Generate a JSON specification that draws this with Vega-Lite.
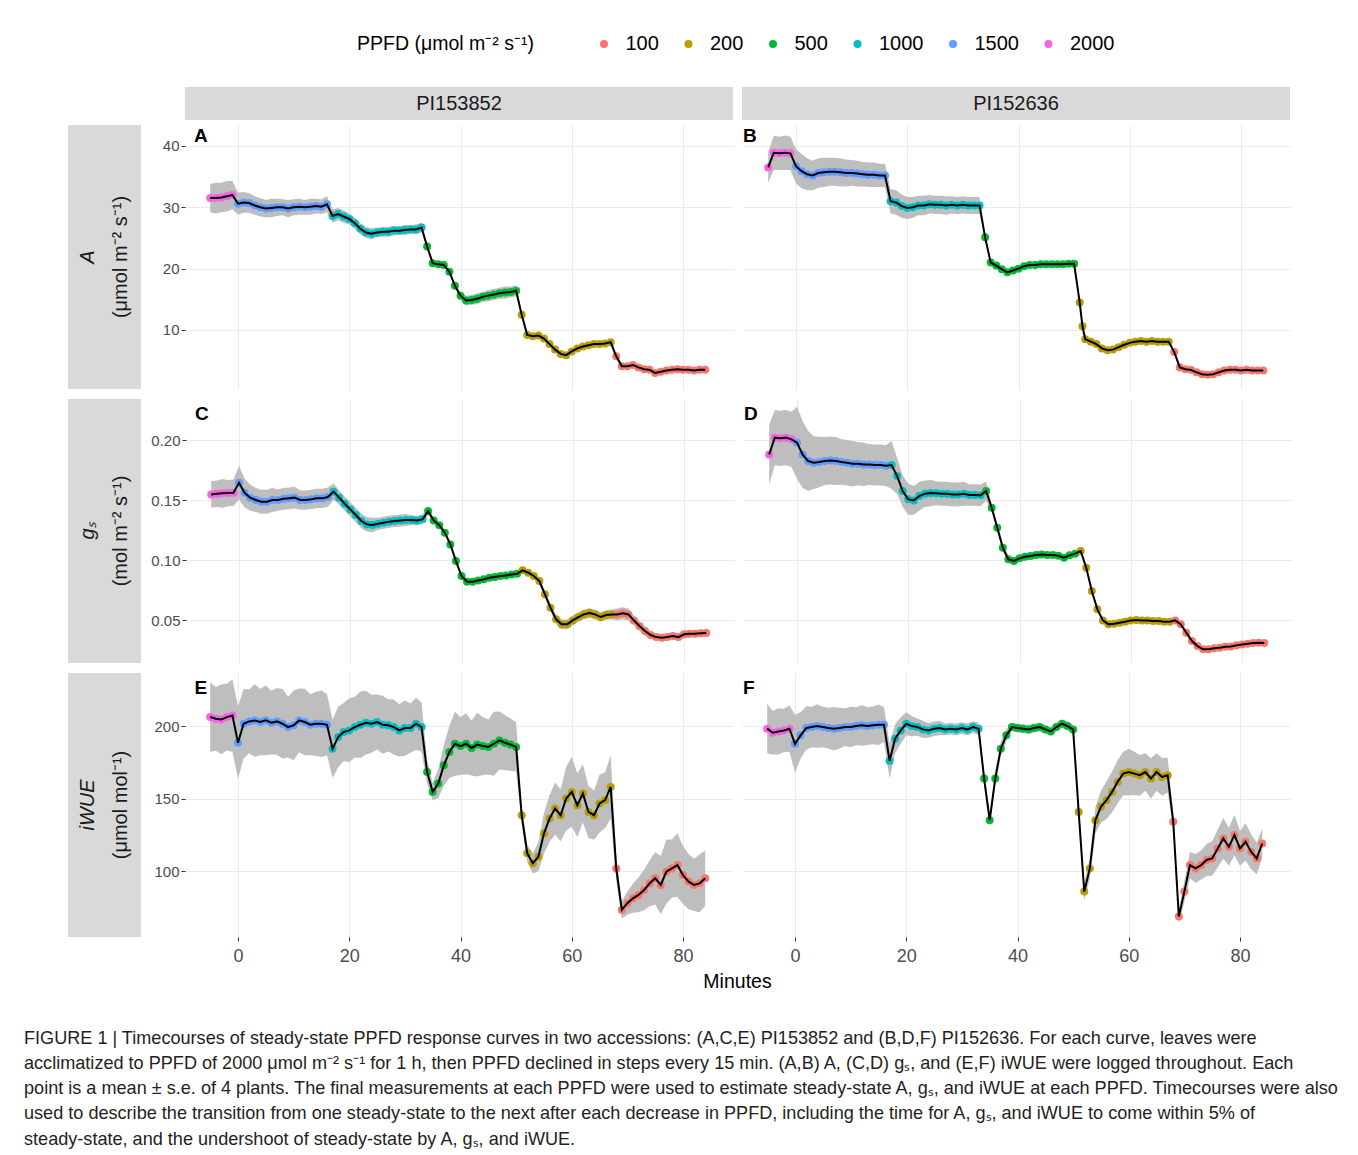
{
"$schema":"https://vega.github.io/schema/vega-lite/v6.json",
"background":"white",
"padding":{"left":24,"top":34,"right":10,"bottom":5},
"config":{"font":"Liberation Sans","view":{"stroke":null},
"axis":{"gridColor":"#ebebeb","gridWidth":1.1,"domain":false,"tickColor":"#333333","tickSize":4,"labelColor":"#4d4d4d","labelFont":"Liberation Sans","labelFontSize":15,"titleFont":"Liberation Sans","titleFontSize":19.5,"titleFontWeight":"normal","titleColor":"#000000","labelPadding":2},
"axisX":{"labelFontSize":18,"labelPadding":6}},
"title":{"text":["FIGURE 1 | Timecourses of steady-state PPFD response curves in two accessions: (A,C,E) PI153852 and (B,D,F) PI152636. For each curve, leaves were","acclimatized to PPFD of 2000 μmol m⁻² s⁻¹ for 1 h, then PPFD declined in steps every 15 min. (A,B) A, (C,D) gₛ, and (E,F) iWUE were logged throughout. Each","point is a mean ± s.e. of 4 plants. The final measurements at each PPFD were used to estimate steady-state A, gₛ, and iWUE at each PPFD. Timecourses were also","used to describe the transition from one steady-state to the next after each decrease in PPFD, including the time for A, gₛ, and iWUE to come within 5% of","steady-state, and the undershoot of steady-state by A, gₛ, and iWUE."],"orient":"bottom","anchor":"start","dx":-44,"offset":39,"fontSize":18.1,"fontWeight":"normal","font":"Liberation Sans","color":"#231f20","lineHeight":25.3,"baseline":"top"},
"datasets":{
"A1":[{"t":-5,"m":31.5,"e":2.3,"p":2000},{"t":-4,"m":31.5,"e":2.5,"p":2000},{"t":-3,"m":31.6,"e":2.4,"p":2000},{"t":-2,"m":31.8,"e":2.5,"p":2000},{"t":-1,"m":32.0,"e":2.3,"p":2000},{"t":0,"m":30.6,"e":1.8,"p":1500},{"t":1,"m":30.8,"e":1.7,"p":1500},{"t":2,"m":30.7,"e":1.6,"p":1500},{"t":3,"m":30.3,"e":1.5,"p":1500},{"t":4,"m":30.0,"e":1.5,"p":1500},{"t":5,"m":29.8,"e":1.4,"p":1500},{"t":6,"m":29.9,"e":1.5,"p":1500},{"t":7,"m":30.0,"e":1.4,"p":1500},{"t":8,"m":30.0,"e":1.3,"p":1500},{"t":9,"m":29.8,"e":1.4,"p":1500},{"t":10,"m":30.0,"e":1.3,"p":1500},{"t":11,"m":30.1,"e":1.3,"p":1500},{"t":12,"m":30.0,"e":1.2,"p":1500},{"t":13,"m":30.1,"e":1.3,"p":1500},{"t":14,"m":30.2,"e":1.2,"p":1500},{"t":15,"m":30.1,"e":1.2,"p":1500},{"t":16,"m":30.5,"e":1.3,"p":1500},{"t":17,"m":28.6,"e":1.1,"p":1000},{"t":18,"m":28.9,"e":1.0,"p":1000},{"t":19,"m":28.5,"e":1.0,"p":1000},{"t":20,"m":28.1,"e":0.9,"p":1000},{"t":21,"m":27.4,"e":0.9,"p":1000},{"t":22,"m":26.5,"e":0.9,"p":1000},{"t":23,"m":25.9,"e":0.9,"p":1000},{"t":24,"m":25.7,"e":0.9,"p":1000},{"t":25,"m":25.9,"e":0.8,"p":1000},{"t":26,"m":26.0,"e":0.8,"p":1000},{"t":27,"m":26.0,"e":0.8,"p":1000},{"t":28,"m":26.2,"e":0.8,"p":1000},{"t":29,"m":26.2,"e":0.7,"p":1000},{"t":30,"m":26.3,"e":0.8,"p":1000},{"t":31,"m":26.4,"e":0.7,"p":1000},{"t":32,"m":26.4,"e":0.8,"p":1000},{"t":33,"m":26.7,"e":0.8,"p":1000},{"t":34,"m":23.6,"e":0.3,"p":500},{"t":35,"m":20.9,"e":0.3,"p":500},{"t":36,"m":20.7,"e":0.3,"p":500},{"t":37,"m":20.6,"e":0.3,"p":500},{"t":38,"m":19.5,"e":0.3,"p":500},{"t":39,"m":17.2,"e":0.4,"p":500},{"t":40,"m":15.6,"e":0.6,"p":500},{"t":41,"m":14.8,"e":0.8,"p":500},{"t":42,"m":14.9,"e":0.8,"p":500},{"t":43,"m":15.1,"e":0.9,"p":500},{"t":44,"m":15.4,"e":0.8,"p":500},{"t":45,"m":15.6,"e":0.9,"p":500},{"t":46,"m":15.8,"e":0.9,"p":500},{"t":47,"m":16.0,"e":0.9,"p":500},{"t":48,"m":16.1,"e":1.0,"p":500},{"t":49,"m":16.2,"e":0.9,"p":500},{"t":50,"m":16.4,"e":0.9,"p":500},{"t":51,"m":12.5,"e":0.3,"p":200},{"t":52,"m":9.2,"e":0.3,"p":200},{"t":53,"m":9.0,"e":0.3,"p":200},{"t":54,"m":9.1,"e":0.3,"p":200},{"t":55,"m":8.6,"e":0.3,"p":200},{"t":56,"m":7.7,"e":0.3,"p":200},{"t":57,"m":6.8,"e":0.3,"p":200},{"t":58,"m":6.1,"e":0.3,"p":200},{"t":59,"m":5.9,"e":0.3,"p":200},{"t":60,"m":6.5,"e":0.3,"p":200},{"t":61,"m":7.0,"e":0.3,"p":200},{"t":62,"m":7.3,"e":0.3,"p":200},{"t":63,"m":7.5,"e":0.3,"p":200},{"t":64,"m":7.7,"e":0.3,"p":200},{"t":65,"m":7.7,"e":0.3,"p":200},{"t":66,"m":7.8,"e":0.3,"p":200},{"t":67,"m":8.0,"e":0.3,"p":200},{"t":68,"m":5.7,"e":0.3,"p":100},{"t":69,"m":4.1,"e":0.3,"p":100},{"t":70,"m":4.1,"e":0.3,"p":100},{"t":71,"m":4.3,"e":0.3,"p":100},{"t":72,"m":3.9,"e":0.3,"p":100},{"t":73,"m":3.6,"e":0.3,"p":100},{"t":74,"m":3.5,"e":0.3,"p":100},{"t":75,"m":3.0,"e":0.3,"p":100},{"t":76,"m":3.2,"e":0.3,"p":100},{"t":77,"m":3.4,"e":0.3,"p":100},{"t":78,"m":3.5,"e":0.3,"p":100},{"t":79,"m":3.6,"e":0.3,"p":100},{"t":80,"m":3.5,"e":0.3,"p":100},{"t":81,"m":3.5,"e":0.3,"p":100},{"t":82,"m":3.4,"e":0.3,"p":100},{"t":83,"m":3.5,"e":0.3,"p":100},{"t":84,"m":3.5,"e":0.3,"p":100}],
"B1":[{"t":-5,"m":36.5,"e":2.5,"p":2000},{"t":-4,"m":38.9,"e":2.8,"p":2000},{"t":-3,"m":38.8,"e":2.7,"p":2000},{"t":-2,"m":38.9,"e":2.8,"p":2000},{"t":-1,"m":38.8,"e":2.7,"p":2000},{"t":0,"m":36.7,"e":2.8,"p":1500},{"t":1,"m":35.9,"e":2.8,"p":1500},{"t":2,"m":35.4,"e":2.6,"p":1500},{"t":3,"m":35.2,"e":2.4,"p":1500},{"t":4,"m":35.6,"e":2.4,"p":1500},{"t":5,"m":35.7,"e":2.4,"p":1500},{"t":6,"m":35.8,"e":2.3,"p":1500},{"t":7,"m":35.8,"e":2.3,"p":1500},{"t":8,"m":35.7,"e":2.3,"p":1500},{"t":9,"m":35.6,"e":2.2,"p":1500},{"t":10,"m":35.6,"e":2.1,"p":1500},{"t":11,"m":35.5,"e":2.1,"p":1500},{"t":12,"m":35.4,"e":2.0,"p":1500},{"t":13,"m":35.3,"e":2.0,"p":1500},{"t":14,"m":35.3,"e":2.0,"p":1500},{"t":15,"m":35.2,"e":1.9,"p":1500},{"t":16,"m":35.2,"e":1.9,"p":1500},{"t":17,"m":31.0,"e":2.0,"p":1000},{"t":18,"m":30.8,"e":2.0,"p":1000},{"t":19,"m":30.2,"e":1.9,"p":1000},{"t":20,"m":29.9,"e":1.8,"p":1000},{"t":21,"m":30.0,"e":1.7,"p":1000},{"t":22,"m":30.3,"e":1.6,"p":1000},{"t":23,"m":30.3,"e":1.6,"p":1000},{"t":24,"m":30.5,"e":1.5,"p":1000},{"t":25,"m":30.4,"e":1.5,"p":1000},{"t":26,"m":30.4,"e":1.5,"p":1000},{"t":27,"m":30.3,"e":1.5,"p":1000},{"t":28,"m":30.4,"e":1.4,"p":1000},{"t":29,"m":30.3,"e":1.4,"p":1000},{"t":30,"m":30.4,"e":1.4,"p":1000},{"t":31,"m":30.3,"e":1.4,"p":1000},{"t":32,"m":30.3,"e":1.4,"p":1000},{"t":33,"m":30.3,"e":1.4,"p":1000},{"t":34,"m":25.1,"e":0.3,"p":500},{"t":35,"m":21.0,"e":0.3,"p":500},{"t":36,"m":20.5,"e":0.3,"p":500},{"t":37,"m":19.9,"e":0.3,"p":500},{"t":38,"m":19.4,"e":0.3,"p":500},{"t":39,"m":19.7,"e":0.3,"p":500},{"t":40,"m":20.0,"e":0.3,"p":500},{"t":41,"m":20.4,"e":0.3,"p":500},{"t":42,"m":20.6,"e":0.3,"p":500},{"t":43,"m":20.6,"e":0.3,"p":500},{"t":44,"m":20.7,"e":0.3,"p":500},{"t":45,"m":20.7,"e":0.3,"p":500},{"t":46,"m":20.7,"e":0.3,"p":500},{"t":47,"m":20.7,"e":0.3,"p":500},{"t":48,"m":20.7,"e":0.3,"p":500},{"t":49,"m":20.8,"e":0.3,"p":500},{"t":50,"m":20.8,"e":0.3,"p":500},{"t":51,"m":14.5,"e":0.3,"p":200},{"t":51.5,"m":10.6,"e":0.3,"p":200},{"t":52,"m":8.5,"e":0.3,"p":200},{"t":53,"m":8.1,"e":0.3,"p":200},{"t":54,"m":7.7,"e":0.3,"p":200},{"t":55,"m":7.0,"e":0.3,"p":200},{"t":56,"m":6.7,"e":0.3,"p":200},{"t":57,"m":6.8,"e":0.3,"p":200},{"t":58,"m":7.2,"e":0.3,"p":200},{"t":59,"m":7.6,"e":0.3,"p":200},{"t":60,"m":7.9,"e":0.3,"p":200},{"t":61,"m":8.1,"e":0.3,"p":200},{"t":62,"m":8.2,"e":0.3,"p":200},{"t":63,"m":8.1,"e":0.3,"p":200},{"t":64,"m":8.2,"e":0.3,"p":200},{"t":65,"m":8.1,"e":0.3,"p":200},{"t":66,"m":8.1,"e":0.3,"p":200},{"t":67,"m":8.1,"e":0.3,"p":200},{"t":68,"m":6.4,"e":0.3,"p":100},{"t":69,"m":3.9,"e":0.3,"p":100},{"t":70,"m":3.6,"e":0.3,"p":100},{"t":71,"m":3.5,"e":0.3,"p":100},{"t":72,"m":3.1,"e":0.3,"p":100},{"t":73,"m":2.8,"e":0.3,"p":100},{"t":74,"m":2.7,"e":0.3,"p":100},{"t":75,"m":2.8,"e":0.3,"p":100},{"t":76,"m":3.1,"e":0.3,"p":100},{"t":77,"m":3.4,"e":0.3,"p":100},{"t":78,"m":3.5,"e":0.3,"p":100},{"t":79,"m":3.5,"e":0.3,"p":100},{"t":80,"m":3.4,"e":0.3,"p":100},{"t":81,"m":3.5,"e":0.3,"p":100},{"t":82,"m":3.4,"e":0.3,"p":100},{"t":83,"m":3.4,"e":0.3,"p":100},{"t":84,"m":3.4,"e":0.3,"p":100}],
"C1":[{"t":-5,"m":0.1547,"e":0.011,"p":2000},{"t":-4,"m":0.1553,"e":0.011,"p":2000},{"t":-3,"m":0.1556,"e":0.012,"p":2000},{"t":-2,"m":0.1558,"e":0.011,"p":2000},{"t":-1,"m":0.1561,"e":0.011,"p":2000},{"t":0,"m":0.1644,"e":0.014,"p":1500},{"t":1,"m":0.156,"e":0.012,"p":1500},{"t":2,"m":0.152,"e":0.011,"p":1500},{"t":3,"m":0.15,"e":0.01,"p":1500},{"t":4,"m":0.1486,"e":0.01,"p":1500},{"t":5,"m":0.1486,"e":0.01,"p":1500},{"t":6,"m":0.15,"e":0.01,"p":1500},{"t":7,"m":0.15,"e":0.009,"p":1500},{"t":8,"m":0.151,"e":0.009,"p":1500},{"t":9,"m":0.1514,"e":0.009,"p":1500},{"t":10,"m":0.152,"e":0.009,"p":1500},{"t":11,"m":0.15,"e":0.008,"p":1500},{"t":12,"m":0.15,"e":0.008,"p":1500},{"t":13,"m":0.1506,"e":0.008,"p":1500},{"t":14,"m":0.1514,"e":0.008,"p":1500},{"t":15,"m":0.1514,"e":0.008,"p":1500},{"t":16,"m":0.1525,"e":0.008,"p":1500},{"t":17,"m":0.157,"e":0.007,"p":1000},{"t":18,"m":0.152,"e":0.006,"p":1000},{"t":19,"m":0.147,"e":0.006,"p":1000},{"t":20,"m":0.1422,"e":0.006,"p":1000},{"t":21,"m":0.1375,"e":0.006,"p":1000},{"t":22,"m":0.1325,"e":0.006,"p":1000},{"t":23,"m":0.1297,"e":0.006,"p":1000},{"t":24,"m":0.1292,"e":0.006,"p":1000},{"t":25,"m":0.1303,"e":0.005,"p":1000},{"t":26,"m":0.1311,"e":0.005,"p":1000},{"t":27,"m":0.132,"e":0.005,"p":1000},{"t":28,"m":0.1325,"e":0.005,"p":1000},{"t":29,"m":0.133,"e":0.005,"p":1000},{"t":30,"m":0.1333,"e":0.005,"p":1000},{"t":31,"m":0.1333,"e":0.004,"p":1000},{"t":32,"m":0.133,"e":0.004,"p":1000},{"t":33,"m":0.1339,"e":0.004,"p":1000},{"t":34,"m":0.1408,"e":0.003,"p":500},{"t":35,"m":0.133,"e":0.002,"p":500},{"t":36,"m":0.129,"e":0.002,"p":500},{"t":37,"m":0.1228,"e":0.002,"p":500},{"t":38,"m":0.113,"e":0.002,"p":500},{"t":39,"m":0.0992,"e":0.002,"p":500},{"t":40,"m":0.0867,"e":0.002,"p":500},{"t":41,"m":0.082,"e":0.002,"p":500},{"t":42,"m":0.082,"e":0.002,"p":500},{"t":43,"m":0.083,"e":0.002,"p":500},{"t":44,"m":0.0839,"e":0.002,"p":500},{"t":45,"m":0.0853,"e":0.002,"p":500},{"t":46,"m":0.0858,"e":0.002,"p":500},{"t":47,"m":0.0867,"e":0.002,"p":500},{"t":48,"m":0.0872,"e":0.002,"p":500},{"t":49,"m":0.088,"e":0.002,"p":500},{"t":50,"m":0.0886,"e":0.002,"p":500},{"t":51,"m":0.0914,"e":0.002,"p":200},{"t":52,"m":0.0894,"e":0.002,"p":200},{"t":53,"m":0.0867,"e":0.002,"p":200},{"t":54,"m":0.0825,"e":0.003,"p":200},{"t":55,"m":0.0714,"e":0.003,"p":200},{"t":56,"m":0.0603,"e":0.003,"p":200},{"t":57,"m":0.0506,"e":0.004,"p":200},{"t":58,"m":0.0464,"e":0.004,"p":200},{"t":59,"m":0.0464,"e":0.004,"p":200},{"t":60,"m":0.0497,"e":0.004,"p":200},{"t":61,"m":0.0525,"e":0.004,"p":200},{"t":62,"m":0.0547,"e":0.004,"p":200},{"t":63,"m":0.0558,"e":0.004,"p":200},{"t":64,"m":0.0547,"e":0.004,"p":200},{"t":65,"m":0.0525,"e":0.004,"p":200},{"t":66,"m":0.0542,"e":0.004,"p":200},{"t":67,"m":0.0547,"e":0.004,"p":200},{"t":68,"m":0.0547,"e":0.005,"p":100},{"t":69,"m":0.0556,"e":0.005,"p":100},{"t":70,"m":0.0547,"e":0.005,"p":100},{"t":71,"m":0.0497,"e":0.004,"p":100},{"t":72,"m":0.045,"e":0.004,"p":100},{"t":73,"m":0.0408,"e":0.004,"p":100},{"t":74,"m":0.0375,"e":0.003,"p":100},{"t":75,"m":0.0358,"e":0.003,"p":100},{"t":76,"m":0.0353,"e":0.003,"p":100},{"t":77,"m":0.0358,"e":0.003,"p":100},{"t":78,"m":0.0367,"e":0.003,"p":100},{"t":79,"m":0.0358,"e":0.003,"p":100},{"t":80,"m":0.0381,"e":0.003,"p":100},{"t":81,"m":0.0386,"e":0.003,"p":100},{"t":82,"m":0.0386,"e":0.003,"p":100},{"t":83,"m":0.0389,"e":0.003,"p":100},{"t":84,"m":0.0392,"e":0.003,"p":100}],
"D1":[{"t":-5,"m":0.188,"e":0.025,"p":2000},{"t":-4,"m":0.202,"e":0.023,"p":2000},{"t":-3,"m":0.2014,"e":0.023,"p":2000},{"t":-2,"m":0.202,"e":0.023,"p":2000},{"t":-1,"m":0.2006,"e":0.023,"p":2000},{"t":0,"m":0.1978,"e":0.03,"p":1500},{"t":1,"m":0.188,"e":0.028,"p":1500},{"t":2,"m":0.1825,"e":0.025,"p":1500},{"t":3,"m":0.1811,"e":0.022,"p":1500},{"t":4,"m":0.1817,"e":0.021,"p":1500},{"t":5,"m":0.1825,"e":0.02,"p":1500},{"t":6,"m":0.183,"e":0.02,"p":1500},{"t":7,"m":0.1825,"e":0.02,"p":1500},{"t":8,"m":0.1817,"e":0.019,"p":1500},{"t":9,"m":0.1811,"e":0.019,"p":1500},{"t":10,"m":0.1803,"e":0.019,"p":1500},{"t":11,"m":0.1803,"e":0.018,"p":1500},{"t":12,"m":0.1797,"e":0.018,"p":1500},{"t":13,"m":0.1797,"e":0.017,"p":1500},{"t":14,"m":0.1792,"e":0.017,"p":1500},{"t":15,"m":0.1792,"e":0.017,"p":1500},{"t":16,"m":0.1786,"e":0.017,"p":1500},{"t":17,"m":0.1792,"e":0.02,"p":1000},{"t":18,"m":0.17,"e":0.015,"p":1000},{"t":19,"m":0.1575,"e":0.013,"p":1000},{"t":20,"m":0.1506,"e":0.013,"p":1000},{"t":21,"m":0.1497,"e":0.012,"p":1000},{"t":22,"m":0.1533,"e":0.012,"p":1000},{"t":23,"m":0.1553,"e":0.011,"p":1000},{"t":24,"m":0.1558,"e":0.011,"p":1000},{"t":25,"m":0.1556,"e":0.01,"p":1000},{"t":26,"m":0.1553,"e":0.01,"p":1000},{"t":27,"m":0.1553,"e":0.01,"p":1000},{"t":28,"m":0.1547,"e":0.01,"p":1000},{"t":29,"m":0.1547,"e":0.01,"p":1000},{"t":30,"m":0.1553,"e":0.01,"p":1000},{"t":31,"m":0.1542,"e":0.009,"p":1000},{"t":32,"m":0.1542,"e":0.009,"p":1000},{"t":33,"m":0.1539,"e":0.009,"p":1000},{"t":34,"m":0.1575,"e":0.008,"p":500},{"t":35,"m":0.1436,"e":0.003,"p":500},{"t":36,"m":0.127,"e":0.003,"p":500},{"t":37,"m":0.1103,"e":0.003,"p":500},{"t":38,"m":0.1006,"e":0.003,"p":500},{"t":39,"m":0.0992,"e":0.003,"p":500},{"t":40,"m":0.1014,"e":0.003,"p":500},{"t":41,"m":0.1028,"e":0.003,"p":500},{"t":42,"m":0.1033,"e":0.003,"p":500},{"t":43,"m":0.1042,"e":0.003,"p":500},{"t":44,"m":0.1047,"e":0.003,"p":500},{"t":45,"m":0.1042,"e":0.002,"p":500},{"t":46,"m":0.1042,"e":0.002,"p":500},{"t":47,"m":0.1036,"e":0.002,"p":500},{"t":48,"m":0.1019,"e":0.002,"p":500},{"t":49,"m":0.1039,"e":0.002,"p":500},{"t":50,"m":0.1053,"e":0.002,"p":500},{"t":51,"m":0.1075,"e":0.002,"p":200},{"t":52,"m":0.0936,"e":0.002,"p":200},{"t":53,"m":0.0742,"e":0.002,"p":200},{"t":54,"m":0.0589,"e":0.002,"p":200},{"t":55,"m":0.0497,"e":0.002,"p":200},{"t":56,"m":0.0464,"e":0.002,"p":200},{"t":57,"m":0.0469,"e":0.002,"p":200},{"t":58,"m":0.0478,"e":0.002,"p":200},{"t":59,"m":0.0486,"e":0.002,"p":200},{"t":60,"m":0.0497,"e":0.002,"p":200},{"t":61,"m":0.05,"e":0.002,"p":200},{"t":62,"m":0.0497,"e":0.002,"p":200},{"t":63,"m":0.0497,"e":0.002,"p":200},{"t":64,"m":0.0492,"e":0.002,"p":200},{"t":65,"m":0.0492,"e":0.002,"p":200},{"t":66,"m":0.0486,"e":0.002,"p":200},{"t":67,"m":0.0486,"e":0.002,"p":200},{"t":68,"m":0.0497,"e":0.002,"p":100},{"t":69,"m":0.0464,"e":0.002,"p":100},{"t":70,"m":0.0394,"e":0.002,"p":100},{"t":71,"m":0.0325,"e":0.002,"p":100},{"t":72,"m":0.0283,"e":0.002,"p":100},{"t":73,"m":0.0256,"e":0.002,"p":100},{"t":74,"m":0.0256,"e":0.002,"p":100},{"t":75,"m":0.0264,"e":0.002,"p":100},{"t":76,"m":0.0269,"e":0.002,"p":100},{"t":77,"m":0.0278,"e":0.002,"p":100},{"t":78,"m":0.028,"e":0.002,"p":100},{"t":79,"m":0.0289,"e":0.002,"p":100},{"t":80,"m":0.0297,"e":0.002,"p":100},{"t":81,"m":0.0303,"e":0.002,"p":100},{"t":82,"m":0.0308,"e":0.002,"p":100},{"t":83,"m":0.0311,"e":0.002,"p":100},{"t":84,"m":0.0308,"e":0.002,"p":100}],
"E1":[{"t":-5,"m":206.2,"e":24,"p":2000},{"t":-4,"m":205.0,"e":22,"p":2000},{"t":-3,"m":204.6,"e":24,"p":2000},{"t":-2,"m":206.2,"e":23,"p":2000},{"t":-1,"m":207.3,"e":25,"p":2000},{"t":0,"m":188.5,"e":25,"p":1500},{"t":1,"m":201.6,"e":24,"p":1500},{"t":2,"m":203.2,"e":22,"p":1500},{"t":3,"m":203.9,"e":25,"p":1500},{"t":4,"m":202.8,"e":23,"p":1500},{"t":5,"m":203.9,"e":24,"p":1500},{"t":6,"m":202.3,"e":22,"p":1500},{"t":7,"m":203.2,"e":23,"p":1500},{"t":8,"m":201.6,"e":24,"p":1500},{"t":9,"m":199.3,"e":21,"p":1500},{"t":10,"m":200.5,"e":24,"p":1500},{"t":11,"m":203.9,"e":22,"p":1500},{"t":12,"m":202.8,"e":23,"p":1500},{"t":13,"m":200.9,"e":21,"p":1500},{"t":14,"m":201.6,"e":22,"p":1500},{"t":15,"m":201.6,"e":23,"p":1500},{"t":16,"m":200.9,"e":21,"p":1500},{"t":17,"m":184.4,"e":20,"p":1000},{"t":18,"m":192.4,"e":21,"p":1000},{"t":19,"m":195.9,"e":20,"p":1000},{"t":20,"m":197.0,"e":22,"p":1000},{"t":21,"m":199.3,"e":21,"p":1000},{"t":22,"m":200.9,"e":23,"p":1000},{"t":23,"m":202.3,"e":22,"p":1000},{"t":24,"m":201.6,"e":20,"p":1000},{"t":25,"m":202.8,"e":19,"p":1000},{"t":26,"m":200.9,"e":20,"p":1000},{"t":27,"m":200.5,"e":18,"p":1000},{"t":28,"m":199.3,"e":19,"p":1000},{"t":29,"m":197.0,"e":18,"p":1000},{"t":30,"m":198.6,"e":19,"p":1000},{"t":31,"m":198.6,"e":17,"p":1000},{"t":32,"m":201.6,"e":18,"p":1000},{"t":33,"m":199.3,"e":17,"p":1000},{"t":34,"m":168.3,"e":8,"p":500},{"t":35,"m":154.6,"e":6,"p":500},{"t":36,"m":160.3,"e":10,"p":500},{"t":37,"m":172.9,"e":14,"p":500},{"t":38,"m":182.1,"e":18,"p":500},{"t":39,"m":187.8,"e":22,"p":500},{"t":40,"m":186.2,"e":20,"p":500},{"t":41,"m":187.8,"e":21,"p":500},{"t":42,"m":184.9,"e":19,"p":500},{"t":43,"m":187.2,"e":22,"p":500},{"t":44,"m":186.2,"e":20,"p":500},{"t":45,"m":185.6,"e":19,"p":500},{"t":46,"m":187.8,"e":22,"p":500},{"t":47,"m":190.1,"e":20,"p":500},{"t":48,"m":188.5,"e":19,"p":500},{"t":49,"m":187.2,"e":18,"p":500},{"t":50,"m":185.6,"e":17,"p":500},{"t":51,"m":138.5,"e":6,"p":200},{"t":52,"m":112.2,"e":6,"p":200},{"t":53,"m":105.3,"e":7,"p":200},{"t":54,"m":109.9,"e":10,"p":200},{"t":55,"m":125.9,"e":14,"p":200},{"t":56,"m":136.2,"e":16,"p":200},{"t":57,"m":143.1,"e":18,"p":200},{"t":58,"m":138.5,"e":18,"p":200},{"t":59,"m":150.0,"e":22,"p":200},{"t":60,"m":154.6,"e":24,"p":200},{"t":61,"m":145.4,"e":22,"p":200},{"t":62,"m":153.4,"e":20,"p":200},{"t":63,"m":140.8,"e":18,"p":200},{"t":64,"m":138.5,"e":17,"p":200},{"t":65,"m":146.6,"e":20,"p":200},{"t":66,"m":148.9,"e":19,"p":200},{"t":67,"m":158.0,"e":22,"p":200},{"t":68,"m":101.8,"e":8,"p":100},{"t":69,"m":73.2,"e":6,"p":100},{"t":70,"m":77.8,"e":8,"p":100},{"t":71,"m":81.2,"e":10,"p":100},{"t":72,"m":83.5,"e":12,"p":100},{"t":73,"m":86.9,"e":14,"p":100},{"t":74,"m":91.5,"e":16,"p":100},{"t":75,"m":95.0,"e":18,"p":100},{"t":76,"m":90.4,"e":20,"p":100},{"t":77,"m":99.5,"e":22,"p":100},{"t":78,"m":101.8,"e":20,"p":100},{"t":79,"m":104.1,"e":22,"p":100},{"t":80,"m":97.2,"e":20,"p":100},{"t":81,"m":92.7,"e":19,"p":100},{"t":82,"m":90.4,"e":18,"p":100},{"t":83,"m":91.5,"e":20,"p":100},{"t":84,"m":95.0,"e":19,"p":100}],
"F1":[{"t":-5,"m":198.2,"e":17,"p":2000},{"t":-4,"m":195.4,"e":15,"p":2000},{"t":-3,"m":196.3,"e":16,"p":2000},{"t":-2,"m":197.0,"e":15,"p":2000},{"t":-1,"m":198.2,"e":16,"p":2000},{"t":0,"m":187.8,"e":20,"p":1500},{"t":1,"m":193.6,"e":16,"p":1500},{"t":2,"m":198.6,"e":15,"p":1500},{"t":3,"m":199.3,"e":14,"p":1500},{"t":4,"m":200.0,"e":15,"p":1500},{"t":5,"m":199.3,"e":14,"p":1500},{"t":6,"m":198.6,"e":14,"p":1500},{"t":7,"m":198.2,"e":15,"p":1500},{"t":8,"m":198.6,"e":14,"p":1500},{"t":9,"m":199.3,"e":13,"p":1500},{"t":10,"m":199.3,"e":14,"p":1500},{"t":11,"m":200.0,"e":13,"p":1500},{"t":12,"m":200.5,"e":14,"p":1500},{"t":13,"m":200.0,"e":13,"p":1500},{"t":14,"m":200.5,"e":13,"p":1500},{"t":15,"m":200.9,"e":14,"p":1500},{"t":16,"m":200.9,"e":12,"p":1500},{"t":17,"m":176.0,"e":12,"p":1000},{"t":18,"m":191.3,"e":10,"p":1000},{"t":19,"m":197.0,"e":9,"p":1000},{"t":20,"m":201.6,"e":8,"p":1000},{"t":21,"m":200.0,"e":7,"p":1000},{"t":22,"m":199.3,"e":6,"p":1000},{"t":23,"m":197.7,"e":6,"p":1000},{"t":24,"m":197.0,"e":5,"p":1000},{"t":25,"m":198.2,"e":5,"p":1000},{"t":26,"m":198.6,"e":5,"p":1000},{"t":27,"m":197.7,"e":4,"p":1000},{"t":28,"m":198.2,"e":4,"p":1000},{"t":29,"m":197.7,"e":4,"p":1000},{"t":30,"m":198.6,"e":4,"p":1000},{"t":31,"m":197.7,"e":4,"p":1000},{"t":32,"m":199.3,"e":4,"p":1000},{"t":33,"m":198.2,"e":4,"p":1000},{"t":34,"m":163.8,"e":5,"p":500},{"t":35,"m":135.1,"e":4,"p":500},{"t":36,"m":163.8,"e":5,"p":500},{"t":37,"m":184.4,"e":5,"p":500},{"t":38,"m":193.6,"e":4,"p":500},{"t":39,"m":199.3,"e":3,"p":500},{"t":40,"m":198.6,"e":3,"p":500},{"t":41,"m":198.2,"e":3,"p":500},{"t":42,"m":197.7,"e":3,"p":500},{"t":43,"m":198.6,"e":3,"p":500},{"t":44,"m":199.3,"e":3,"p":500},{"t":45,"m":197.7,"e":3,"p":500},{"t":46,"m":196.3,"e":3,"p":500},{"t":47,"m":199.3,"e":3,"p":500},{"t":48,"m":201.6,"e":3,"p":500},{"t":49,"m":200.0,"e":3,"p":500},{"t":50,"m":197.7,"e":3,"p":500},{"t":51,"m":140.8,"e":5,"p":200},{"t":52,"m":85.8,"e":6,"p":200},{"t":53,"m":101.8,"e":7,"p":200},{"t":54,"m":135.1,"e":9,"p":200},{"t":55,"m":144.3,"e":11,"p":200},{"t":56,"m":148.9,"e":13,"p":200},{"t":57,"m":154.6,"e":14,"p":200},{"t":58,"m":161.5,"e":15,"p":200},{"t":59,"m":167.2,"e":15,"p":200},{"t":60,"m":168.3,"e":16,"p":200},{"t":61,"m":167.2,"e":15,"p":200},{"t":62,"m":166.1,"e":14,"p":200},{"t":63,"m":168.3,"e":13,"p":200},{"t":64,"m":163.8,"e":14,"p":200},{"t":65,"m":168.3,"e":13,"p":200},{"t":66,"m":164.9,"e":13,"p":200},{"t":67,"m":166.1,"e":12,"p":200},{"t":68,"m":134.0,"e":6,"p":100},{"t":69,"m":68.6,"e":5,"p":100},{"t":70,"m":85.8,"e":7,"p":100},{"t":71,"m":104.1,"e":9,"p":100},{"t":72,"m":101.8,"e":10,"p":100},{"t":73,"m":104.1,"e":10,"p":100},{"t":74,"m":107.6,"e":11,"p":100},{"t":75,"m":108.7,"e":12,"p":100},{"t":76,"m":115.6,"e":13,"p":100},{"t":77,"m":122.5,"e":14,"p":100},{"t":78,"m":116.7,"e":13,"p":100},{"t":79,"m":124.8,"e":14,"p":100},{"t":80,"m":115.6,"e":12,"p":100},{"t":81,"m":120.2,"e":13,"p":100},{"t":82,"m":113.3,"e":12,"p":100},{"t":83,"m":108.7,"e":11,"p":100},{"t":84,"m":119.0,"e":10,"p":100}]
},
"vconcat":[
{"hconcat":[
 {"width":108,"height":33,"data":{"values":[{"l":""}]},"mark":"text","encoding":{"text":{"field":"l"}}},
 {"width":548,"height":33,"view":{"fill":"#d9d9d9","stroke":null},"data":{"values":[{"l":"PI153852"}]},"mark":{"type":"text","fontSize":20,"color":"#1a1a1a","font":"Liberation Sans"},"encoding":{"text":{"field":"l"}}},
 {"width":548,"height":33,"view":{"fill":"#d9d9d9","stroke":null},"data":{"values":[{"l":"PI152636"}]},"mark":{"type":"text","fontSize":20,"color":"#1a1a1a","font":"Liberation Sans"},"encoding":{"text":{"field":"l"}}}
],"spacing":9},
{"vconcat":[
{"hconcat":[
 {"width":73,"height":264,"view":{"fill":"#d9d9d9","stroke":null},"layer":[
  {"data":{"values":[{"k":1,"l":"A"}]},"mark":{"type":"text","angle":270,"fontSize":20,"fontStyle":"italic","color":"#1a1a1a"},"encoding":{"x":{"field":"k","type":"ordinal","scale":{"type":"point","domain":[1,2],"padding":0.625},"axis":null},"text":{"field":"l"}}},
  {"data":{"values":[{"k":2,"l":"(μmol m⁻² s⁻¹)"}]},"mark":{"type":"text","angle":270,"fontSize":20,"color":"#1a1a1a"},"encoding":{"x":{"field":"k","type":"ordinal","axis":null},"text":{"field":"l"}}}]},
 {"width":548,"height":264,"data":{"name":"A1"},"layer":[
  {"mark":{"type":"errorband","band":{"color":"#bebebe","opacity":1}},"encoding":{"x":{"field":"t","type":"quantitative","scale":{"domain":[-9.53,88.99],"nice":false,"zero":false},"axis":{"values":[0,20,40,60,80],"labels":false,"ticks":false,"title":null,"grid":true}},"y":{"field":"m","type":"quantitative","scale":{"domain":[0.38,43.42],"nice":false,"zero":false},"axis":{"values":[10,20,30,40],"title":null,"grid":true,"minExtent":35,"maxExtent":35}},"yError":{"field":"e"}}},
  {"mark":{"type":"point","filled":true,"size":64,"opacity":1},"encoding":{"x":{"field":"t","type":"quantitative"},"y":{"field":"m","type":"quantitative"},"color":{"field":"p","type":"nominal","scale":{"domain":[100,200,500,1000,1500,2000],"range":["#F8766D","#B79F00","#00BA38","#00BFC4","#619CFF","#F564E3"]},"legend":{"title":"PPFD (μmol m⁻² s⁻¹)","orient":"none","legendX":289,"legendY":-53,"direction":"horizontal","columns":6,"titleOrient":"left","titleFontSize":19.5,"titleFontWeight":"normal","titleColor":"#000000","labelFontSize":20,"labelColor":"#000000","symbolType":"circle","symbolSize":64,"labelOffset":11.5,"columnPadding":19.5,"titlePadding":60,"symbolStrokeWidth":0}}}},
  {"mark":{"type":"line","color":"#000000","strokeWidth":2},"encoding":{"x":{"field":"t","type":"quantitative"},"y":{"field":"m","type":"quantitative"}}},
  {"data":{"values":[{"l":"A"}]},"mark":{"type":"text","fontSize":19,"fontWeight":"bold","color":"#000000"},"encoding":{"x":{"datum":-6.7},"y":{"datum":41.6},"text":{"field":"l"}}}]},
 {"width":548,"height":264,"data":{"name":"B1"},"layer":[
  {"mark":{"type":"errorband","band":{"color":"#bebebe","opacity":1}},"encoding":{"x":{"field":"t","type":"quantitative","scale":{"domain":[-9.53,88.99],"nice":false,"zero":false},"axis":{"values":[0,20,40,60,80],"labels":false,"ticks":false,"title":null,"grid":true}},"y":{"field":"m","type":"quantitative","scale":{"domain":[0.38,43.42],"nice":false,"zero":false},"axis":{"values":[10,20,30,40],"labels":false,"ticks":false,"title":null,"grid":true,"minExtent":0,"maxExtent":0}},"yError":{"field":"e"}}},
  {"mark":{"type":"point","filled":true,"size":64,"opacity":1},"encoding":{"x":{"field":"t","type":"quantitative"},"y":{"field":"m","type":"quantitative"},"color":{"field":"p","type":"nominal"}}},
  {"mark":{"type":"line","color":"#000000","strokeWidth":2},"encoding":{"x":{"field":"t","type":"quantitative"},"y":{"field":"m","type":"quantitative"}}},
  {"data":{"values":[{"l":"B"}]},"mark":{"type":"text","fontSize":19,"fontWeight":"bold","color":"#000000"},"encoding":{"x":{"datum":-8.3},"y":{"datum":41.6},"text":{"field":"l"}}}]}
],"spacing":9},
{"hconcat":[
 {"width":73,"height":264,"view":{"fill":"#d9d9d9","stroke":null},"layer":[
  {"data":{"values":[{"k":1,"l":"gₛ"}]},"mark":{"type":"text","angle":270,"fontSize":20,"fontStyle":"italic","color":"#1a1a1a"},"encoding":{"x":{"field":"k","type":"ordinal","scale":{"type":"point","domain":[1,2],"padding":0.625},"axis":null},"text":{"field":"l"}}},
  {"data":{"values":[{"k":2,"l":"(mol m⁻² s⁻¹)"}]},"mark":{"type":"text","angle":270,"fontSize":20,"color":"#1a1a1a"},"encoding":{"x":{"field":"k","type":"ordinal","axis":null},"text":{"field":"l"}}}]},
 {"width":548,"height":264,"data":{"name":"C1"},"layer":[
  {"mark":{"type":"errorband","band":{"color":"#bebebe","opacity":1}},"encoding":{"x":{"field":"t","type":"quantitative","scale":{"domain":[-9.53,88.99],"nice":false,"zero":false},"axis":{"values":[0,20,40,60,80],"labels":false,"ticks":false,"title":null,"grid":true}},"y":{"field":"m","type":"quantitative","scale":{"domain":[0.0142,0.2342],"nice":false,"zero":false},"axis":{"values":[0.05,0.1,0.15,0.2],"format":".2f","title":null,"grid":true,"minExtent":35,"maxExtent":35}},"yError":{"field":"e"}}},
  {"mark":{"type":"point","filled":true,"size":64,"opacity":1},"encoding":{"x":{"field":"t","type":"quantitative"},"y":{"field":"m","type":"quantitative"},"color":{"field":"p","type":"nominal"}}},
  {"mark":{"type":"line","color":"#000000","strokeWidth":2},"encoding":{"x":{"field":"t","type":"quantitative"},"y":{"field":"m","type":"quantitative"}}},
  {"data":{"values":[{"l":"C"}]},"mark":{"type":"text","fontSize":19,"fontWeight":"bold","color":"#000000"},"encoding":{"x":{"datum":-6.7},"y":{"datum":0.2217},"text":{"field":"l"}}}]},
 {"width":548,"height":264,"data":{"name":"D1"},"layer":[
  {"mark":{"type":"errorband","band":{"color":"#bebebe","opacity":1}},"encoding":{"x":{"field":"t","type":"quantitative","scale":{"domain":[-9.53,88.99],"nice":false,"zero":false},"axis":{"values":[0,20,40,60,80],"labels":false,"ticks":false,"title":null,"grid":true}},"y":{"field":"m","type":"quantitative","scale":{"domain":[0.0142,0.2342],"nice":false,"zero":false},"axis":{"values":[0.05,0.1,0.15,0.2],"labels":false,"ticks":false,"title":null,"grid":true,"minExtent":0,"maxExtent":0}},"yError":{"field":"e"}}},
  {"mark":{"type":"point","filled":true,"size":64,"opacity":1},"encoding":{"x":{"field":"t","type":"quantitative"},"y":{"field":"m","type":"quantitative"},"color":{"field":"p","type":"nominal"}}},
  {"mark":{"type":"line","color":"#000000","strokeWidth":2},"encoding":{"x":{"field":"t","type":"quantitative"},"y":{"field":"m","type":"quantitative"}}},
  {"data":{"values":[{"l":"D"}]},"mark":{"type":"text","fontSize":19,"fontWeight":"bold","color":"#000000"},"encoding":{"x":{"datum":-8.3},"y":{"datum":0.2217},"text":{"field":"l"}}}]}
],"spacing":9},
{"hconcat":[
 {"width":73,"height":264,"view":{"fill":"#d9d9d9","stroke":null},"layer":[
  {"data":{"values":[{"k":1,"l":"iWUE"}]},"mark":{"type":"text","angle":270,"fontSize":20,"fontStyle":"italic","color":"#1a1a1a"},"encoding":{"x":{"field":"k","type":"ordinal","scale":{"type":"point","domain":[1,2],"padding":0.625},"axis":null},"text":{"field":"l"}}},
  {"data":{"values":[{"k":2,"l":"(μmol mol⁻¹)"}]},"mark":{"type":"text","angle":270,"fontSize":20,"color":"#1a1a1a"},"encoding":{"x":{"field":"k","type":"ordinal","axis":null},"text":{"field":"l"}}}]},
 {"width":26,"height":264,"data":{"values":[{"l":""}]},"mark":"text","encoding":{"text":{"field":"l"}}},
 {"width":548,"height":264,"data":{"name":"E1"},"layer":[
  {"mark":{"type":"errorband","band":{"color":"#bebebe","opacity":1}},"encoding":{"x":{"field":"t","type":"quantitative","scale":{"domain":[-9.53,88.99],"nice":false,"zero":false},"axis":{"values":[0,20,40,60,80],"title":"Minutes","titleX":552,"titlePadding":7,"grid":true}},"y":{"field":"m","type":"quantitative","scale":{"domain":[54.5,236.6],"nice":false,"zero":false},"axis":{"values":[100,150,200],"title":null,"grid":true,"minExtent":35,"maxExtent":35}},"yError":{"field":"e"}}},
  {"mark":{"type":"point","filled":true,"size":64,"opacity":1},"encoding":{"x":{"field":"t","type":"quantitative"},"y":{"field":"m","type":"quantitative"},"color":{"field":"p","type":"nominal"}}},
  {"mark":{"type":"line","color":"#000000","strokeWidth":2},"encoding":{"x":{"field":"t","type":"quantitative"},"y":{"field":"m","type":"quantitative"}}},
  {"data":{"values":[{"l":"E"}]},"mark":{"type":"text","fontSize":19,"fontWeight":"bold","color":"#000000"},"encoding":{"x":{"datum":-6.7},"y":{"datum":226.2},"text":{"field":"l"}}}]},
 {"width":548,"height":264,"data":{"name":"F1"},"layer":[
  {"mark":{"type":"errorband","band":{"color":"#bebebe","opacity":1}},"encoding":{"x":{"field":"t","type":"quantitative","scale":{"domain":[-9.53,88.99],"nice":false,"zero":false},"axis":{"values":[0,20,40,60,80],"title":null,"grid":true}},"y":{"field":"m","type":"quantitative","scale":{"domain":[54.5,236.6],"nice":false,"zero":false},"axis":{"values":[100,150,200],"labels":false,"ticks":false,"title":null,"grid":true,"minExtent":0,"maxExtent":0}},"yError":{"field":"e"}}},
  {"mark":{"type":"point","filled":true,"size":64,"opacity":1},"encoding":{"x":{"field":"t","type":"quantitative"},"y":{"field":"m","type":"quantitative"},"color":{"field":"p","type":"nominal"}}},
  {"mark":{"type":"line","color":"#000000","strokeWidth":2},"encoding":{"x":{"field":"t","type":"quantitative"},"y":{"field":"m","type":"quantitative"}}},
  {"data":{"values":[{"l":"F"}]},"mark":{"type":"text","fontSize":19,"fontWeight":"bold","color":"#000000"},"encoding":{"x":{"datum":-8.3},"y":{"datum":226.2},"text":{"field":"l"}}}]}
],"spacing":9,"bounds":"flush"}
],"spacing":10}
],"spacing":5
}
